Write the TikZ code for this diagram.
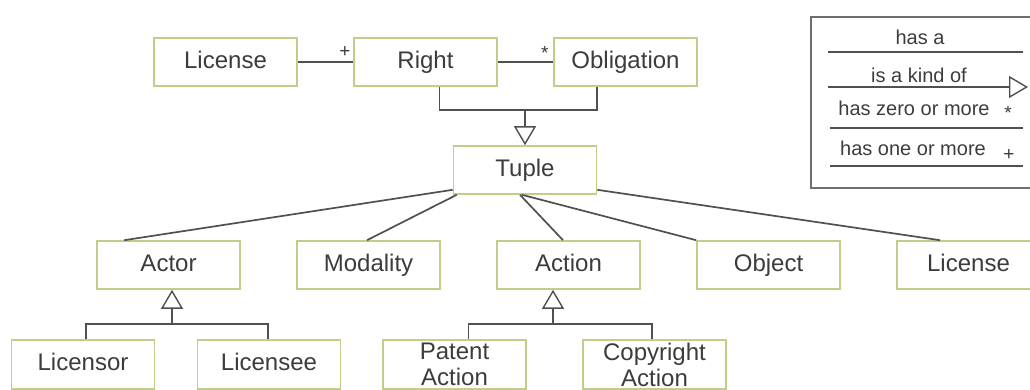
\documentclass[tikz,border=0pt]{standalone}
\usepackage{fontspec}
\setmainfont{Liberation Sans}
\usepackage{xcolor}
\usetikzlibrary{arrows.meta, positioning}
\definecolor{boxgreen}{RGB}{196,204,138}
\definecolor{linegray}{RGB}{80,80,80}
\definecolor{textgray}{RGB}{60,60,60}
\definecolor{framegray}{RGB}{110,110,110}

\begin{document}
\begin{tikzpicture}[x=1pt, y=-1pt,
    classbox/.style={draw=boxgreen, line width=1.6pt, fill=white, minimum width=143pt, minimum height=48pt, text=textgray, font=\fontsize{24}{28}\selectfont, inner sep=0pt, text height=17pt, text depth=5pt},
    twoline/.style={draw=boxgreen, line width=1.6pt, fill=white, minimum width=143pt, minimum height=49pt, text=textgray, font=\fontsize{24}{26}\selectfont, align=center, inner sep=0pt},
    link/.style={draw=linegray, line width=1.7pt},
    kindof/.style={link, -{Triangle[open, length=19pt, width=22pt, line width=1.4pt]}},
    mult/.style={text=textgray, font=\fontsize{19}{19}\selectfont, inner sep=0pt},
    legtext/.style={text=textgray, font=\fontsize{20}{20}\selectfont, inner sep=0pt}
]
\useasboundingbox (0,0) rectangle (1030,389);

% Top row
\node[classbox] (license) at (225.5,62) {License};
\node[classbox] (right) at (425.5,62) {Right};
\node[classbox] (oblig) at (625.5,62) {Obligation};
\node[classbox] (tuple) at (525,170) {Tuple};

\draw[link] (license.east) -- (right.west) node[mult, pos=0.85, above=4pt] {+};
\draw[link] (right.east) -- (oblig.west) node[mult, pos=0.85, above=2pt] {*};

\coordinate (topjoin) at (525,110);
\draw[link] ([xshift=14pt]right.south) |- (topjoin) -| ([xshift=-28.5pt]oblig.south);
\draw[kindof] (topjoin) -- (tuple.north);

% Second row
\node[classbox] (actor) at (168.5,265) {Actor};
\node[classbox] (modality) at (368.5,265) {Modality};
\node[classbox] (action) at (568.5,265) {Action};
\node[classbox] (object) at (768.5,265) {Object};
\node[classbox] (license2) at (968.5,265) {License};

\draw[link] ([yshift=5pt]tuple.south west) -- ([xshift=28pt]actor.north west);
\draw[link] ([xshift=4pt]tuple.south west) -- ([xshift=-1.5pt]modality.north);
\draw[link] ([xshift=-5pt]tuple.south) -- ([xshift=-5.5pt]action.north);
\draw[link] ([xshift=-3pt]tuple.south) -- (object.north west);
\draw[link] ([yshift=5pt]tuple.south east) -- ([xshift=-28.5pt]license2.north);

% Third row
\node[classbox, minimum height=49pt] (licensor) at (83,364.5) {Licensor};
\node[classbox, minimum height=49pt] (licensee) at (269,364.5) {Licensee};
\node[twoline] (patent) at (454.5,364.5) {Patent\\Action};
\node[twoline] (copyright) at (654.5,364.5) {Copyright\\Action};

\coordinate (actjoin) at (172,324);
\draw[link] ([xshift=3pt]licensor.north) |- (actjoin) -| ([xshift=-1pt]licensee.north);
\draw[kindof] (actjoin) -- (actjoin |- actor.south);

\coordinate (actionjoin) at (553,324);
\draw[link] ([xshift=14pt]patent.north) |- (actionjoin) -| ([xshift=-2.5pt]copyright.north);
\draw[kindof] (actionjoin) -- (actionjoin |- action.south);

% Legend
\draw[framegray, line width=2pt] (811,17) rectangle (1045,188);
\node[legtext] (hasa) at (920,37) {has a};
\draw[link] (828,52) -- (1023,52);
\node[legtext] (kind) at (919,75) {is a kind of};
\draw[kindof] (828,87) -- (1028,87);
\node[legtext] (zero) at (914,108) {has zero or more};
\node[mult] (zeromark) at (1008,113) {*};
\draw[link] (830,128) -- (1023,128);
\node[legtext] (one) at (913,148) {has one or more};
\node[mult] (onemark) at (1009,155) {+};
\draw[link] (830,166) -- (1023,166);

\end{tikzpicture}
\end{document}
